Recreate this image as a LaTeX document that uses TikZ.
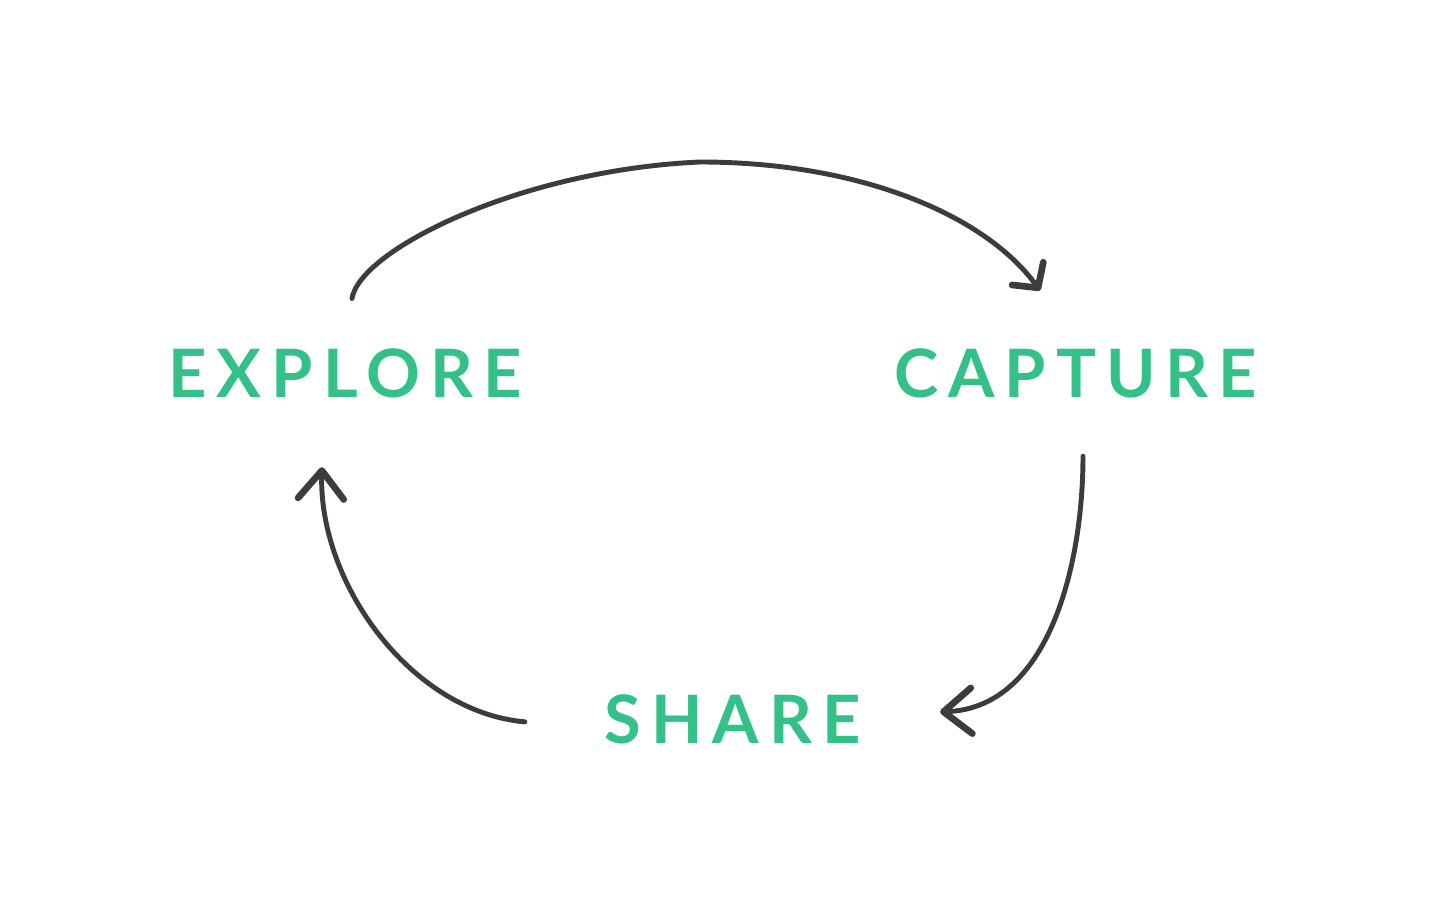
\documentclass[tikz,border=0pt]{standalone}
\usepackage{fontspec}
\usepackage{tikz}
\usetikzlibrary{arrows.meta,positioning}
\usepackage{xcolor}
\newfontfamily\cyclefont[LetterSpace=15]{Lato}
\definecolor{cygreen}{RGB}{51,192,137}
\definecolor{cygray}{RGB}{60,60,60}
\tikzstyle{stage} = [inner sep=0pt, anchor=base, text=cygreen, font=\cyclefont\bfseries\fontsize{19}{23}\selectfont]
\tikzstyle{loop} = [line width=1.4pt, color=cygray, line cap=round]

\begin{document}
\begin{tikzpicture}
\useasboundingbox (0,0) rectangle (14.4,9);
% Stages
\node[stage] (explore) at (3.45,5.02) {EXPLORE};
\node[stage] (capture) at (10.755,5.02) {CAPTURE};
\node[stage] (share) at (7.325,1.57) {SHARE};

% Top of the loop
\coordinate (apex) at (7.0,7.38);

% Connections
\draw[loop, -{Straight Barb[length=5pt, width=11pt, line width=1.9pt, round]}]
  ([xshift=0.7mm, yshift=5mm]explore.north) .. controls (3.6,6.5) and (5.2,7.3) .. (apex)
  .. controls (8.6,7.38) and (9.85,6.85) .. ([xshift=-3.55mm, yshift=5.8mm]capture.north);
\draw[loop, -{Straight Barb[length=8pt, width=13pt, line width=1.9pt, round]}]
  ([xshift=0.75mm, yshift=-5.7mm]capture.south) to[out=-90, in=2, looseness=0.95] ([xshift=7.9mm, yshift=0.7mm]share.east);
\draw[loop, -{Straight Barb[length=8pt, width=13pt, line width=1.9pt, round]}]
  ([xshift=-7.9mm, yshift=-0.3mm]share.west) to[out=175, in=-92, looseness=0.9] ([xshift=-2.3mm, yshift=-6.8mm]explore.south);
\end{tikzpicture}
\end{document}
